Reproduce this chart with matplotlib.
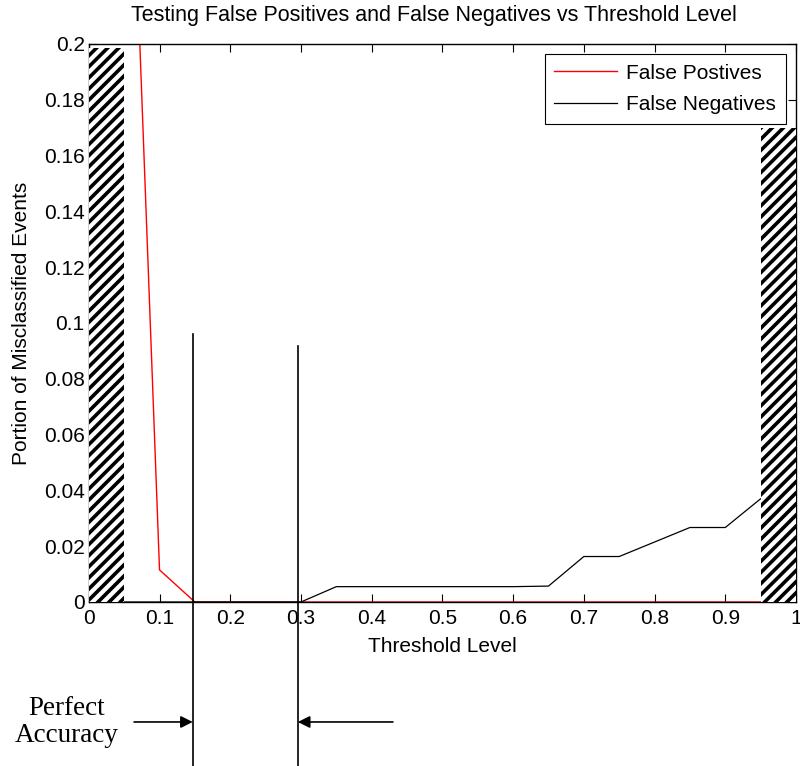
import numpy as np
import matplotlib.pyplot as plt
from matplotlib.patches import Rectangle

plt.rcParams['font.family'] = ['Liberation Sans', 'DejaVu Sans']
plt.rcParams['hatch.linewidth'] = 2.6

# Datos
umbral = np.array([0.05, 0.1, 0.15, 0.2, 0.25, 0.3, 0.35, 0.4, 0.45, 0.5,
                   0.55, 0.6, 0.65, 0.7, 0.75, 0.8, 0.85, 0.9, 0.95, 1.0])
falsos_pos = np.array([0.35, 0.0115, 0, 0, 0, 0, 0, 0, 0, 0,
                       0, 0, 0, 0, 0, 0, 0, 0, 0, 0])
umbral_neg = np.array([0.0, 0.05, 0.1, 0.15, 0.2, 0.25, 0.3, 0.35, 0.4, 0.45, 0.5,
                       0.55, 0.6, 0.65, 0.7, 0.75, 0.8, 0.85, 0.9, 0.95])
falsos_neg = np.array([0, 0, 0, 0, 0, 0, 0, 0.0055, 0.0055, 0.0055, 0.0055,
                       0.0055, 0.0055, 0.0057, 0.0163, 0.0163, 0.0215, 0.0267, 0.0267, 0.037])

# zonas excluidas (rayadas): (x inicio, ancho, alto)
zonas = [(0.0, 0.05, 0.1985), (0.95, 0.05, 0.17)]

# limites de precision perfecta
limites = [0.147, 0.2956]
alto_limites = [0.096, 0.0918]

fig = plt.figure(figsize=(8.0, 7.66), dpi=100)
ax = fig.add_axes([0.111, 0.2141, 0.884, 0.7285])

ax.plot(umbral, falsos_pos, color='red', lw=1.0, label='False Postives')
ax.plot(umbral_neg, falsos_neg, color='black', lw=0.9, label='False Negatives')

for x0, w, h in zonas:
    ax.add_patch(Rectangle((x0, 0), w, h, facecolor='white', edgecolor='black',
                           hatch='///', linewidth=0, zorder=3))

ax.set_xlim(0, 1)
ax.set_ylim(0, 0.2)
ax.set_xticks(np.arange(0, 1.01, 0.1))
ax.set_xticklabels(['0', '0.1', '0.2', '0.3', '0.4', '0.5', '0.6', '0.7', '0.8', '0.9', '1'])
ax.set_yticks(np.arange(0, 0.201, 0.02))
ax.set_yticklabels(['0', '0.02', '0.04', '0.06', '0.08', '0.1', '0.12', '0.14', '0.16', '0.18', '0.2'])
ax.tick_params(direction='in', top=True, right=True, length=6, width=0.8,
               labelsize=15)
ax.tick_params(axis='x', pad=5)
ax.tick_params(axis='y', pad=3)
for s in ax.spines.values():
    s.set_linewidth(1.0)

ax.set_xlabel('Threshold Level', fontsize=15, labelpad=6.5)
ax.set_ylabel('Portion of Misclassified Events', fontsize=15, labelpad=9)
ax.set_title('Testing False Positives and False Negatives vs Threshold Level',
             fontsize=15.5, pad=16.5, x=0.488)

leg = ax.legend(loc='upper right', fontsize=15, frameon=True, fancybox=False,
                edgecolor='black', framealpha=1, borderaxespad=0.5,
                handlelength=3.0, handletextpad=0.45, borderpad=0.45,
                labelspacing=0.6)
leg.get_frame().set_linewidth(0.8)
leg.set_zorder(5)

# anotacion de precision perfecta
for xl, yl in zip(limites, alto_limites):
    ax.plot([xl, xl], [yl, -0.07], color='black', lw=1.2, clip_on=False)

y_flecha = -0.043
ax.annotate('', xy=(limites[0], y_flecha), xytext=(0.064, y_flecha),
            arrowprops=dict(arrowstyle='-|>', color='black', lw=1.2,
                            mutation_scale=18, shrinkA=0, shrinkB=0),
            annotation_clip=False)
ax.annotate('', xy=(limites[1], y_flecha), xytext=(0.43, y_flecha),
            arrowprops=dict(arrowstyle='-|>', color='black', lw=1.2,
                            mutation_scale=18, shrinkA=0, shrinkB=0),
            annotation_clip=False)
ax.text(-0.031, y_flecha, 'Perfect\nAccuracy', family=['Liberation Serif'],
        fontsize=19.5, ha='center', va='center', linespacing=1.15,
        clip_on=False)

fig.savefig('out.png', dpi=100)
